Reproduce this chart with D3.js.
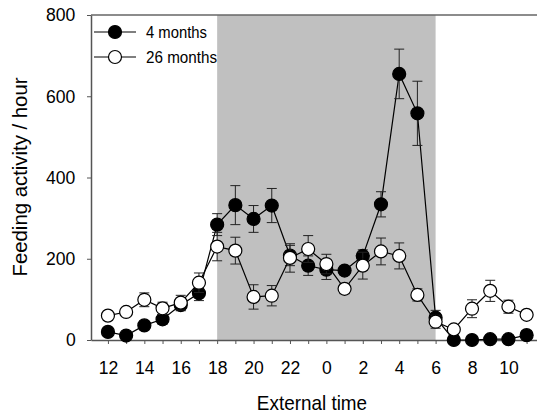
<!DOCTYPE html>
<html>
<head>
<meta charset="utf-8">
<script src="https://cdn.jsdelivr.net/npm/d3@7"></script>
<style>
  html, body { margin: 0; padding: 0; background: #fff; }
  svg { display: block; }
  text { font-family: "Liberation Sans", Arial, sans-serif; fill: #000; }
  .narrow { transform-box: fill-box; transform-origin: center; transform: scaleX(0.9); }
  .ticklabel { transform-box: fill-box; transform-origin: center; transform: scaleX(0.95); }
</style>
</head>
<body>
<svg id="chart" width="537" height="414"></svg>
<script>
// Clock hour at each sample, starting at noon
const hours = [12, 13, 14, 15, 16, 17, 18, 19, 20, 21, 22, 23, 0, 1, 2, 3, 4, 5, 6, 7, 8, 9, 10, 11];

// Feeding activity per hour (mean and SEM) for each age group
const young = [20, 11, 36, 51, 86, 115, 284, 332, 298, 331, 208, 183, 173, 171, 207, 334, 655, 558, 55, 0, 0, 2, 2, 12];
const youngErr = [7, 6, 8, 12, 14, 18, 27, 48, 33, 42, 25, 24, 24, 10, 15, 31, 61, 79, 18, 2, 2, 3, 3, 11];
const old = [60, 69, 99, 78, 92, 141, 230, 220, 106, 109, 202, 224, 187, 126, 183, 218, 207, 111, 45, 26, 77, 121, 82, 62];
const oldErr = [8, 8, 17, 15, 18, 24, 35, 33, 30, 25, 35, 33, 24, 12, 33, 33, 32, 15, 16, 5, 22, 26, 16, 8];

const seriesNames = ["4 months", "26 months"];
const yTicks = [0, 200, 400, 600, 800];
// Dark phase: from 18:00 to 06:00
const darkStart = 18, darkEnd = 6;

const svg = d3.select("#chart");

const x = d3.scaleLinear().domain([-0.93, 23.57]).range([91, 537]);
const y = d3.scaleLinear().domain([0, 800]).range([340, 15]);

const idx = hours.map((h, i) => i);

// Dark period shading
const x0 = x(hours.indexOf(darkStart));
const x1 = x(hours.indexOf(darkEnd));
svg.append("rect")
  .attr("x", x0).attr("y", y(800))
  .attr("width", x1 - x0).attr("height", y(0) - y(800))
  .attr("fill", "#c0c0c0");

// Top frame line
svg.append("line")
  .attr("x1", x.range()[0]).attr("x2", x.range()[1])
  .attr("y1", y(800)).attr("y2", y(800))
  .attr("stroke", "#666").attr("stroke-width", 1.5);

// Axes
const xAxis = d3.axisBottom(x)
  .tickValues(idx)
  .tickSize(4).tickSizeOuter(0).tickPadding(17)
  .tickFormat(i => (i % 2 === 0 ? hours[i] : ""));
const gx = svg.append("g").attr("transform", `translate(0,${y(0)})`).call(xAxis);

const yAxis = d3.axisLeft(y)
  .tickValues(yTicks)
  .tickSize(4).tickSizeOuter(0).tickPadding(11);
const gy = svg.append("g").attr("transform", `translate(${x.range()[0]},0)`).call(yAxis);

[gx, gy].forEach(g => {
  g.select(".domain").attr("stroke", "#555").attr("stroke-width", 1.5);
  g.selectAll(".tick line").attr("stroke", "#555");
  g.selectAll(".tick text")
    .attr("font-size", 18.5)
    .attr("font-family", "Liberation Sans, Arial, sans-serif")
    .attr("fill", "#000")
    .attr("class", "ticklabel");
});

// Axis titles
svg.append("text")
  .attr("class", "narrow")
  .attr("x", 312).attr("y", 410)
  .attr("text-anchor", "middle")
  .attr("font-size", 21)
  .text("External time");

svg.append("text")
  .attr("transform", "translate(27,177) rotate(-90)")
  .attr("text-anchor", "middle")
  .attr("font-size", 21)
  .attr("textLength", 199)
  .attr("lengthAdjust", "spacingAndGlyphs")
  .text("Feeding activity / hour");

// Series: line, error bars, markers
function drawSeries(vals, errs, fill) {
  const g = svg.append("g");
  const line = d3.line().x((d, i) => x(i)).y(d => y(d));
  g.append("path")
    .datum(vals)
    .attr("d", line)
    .attr("fill", "none")
    .attr("stroke", "#000")
    .attr("stroke-width", 1.2);

  const eb = g.selectAll(".err").data(vals).join("g").attr("class", "err");
  eb.append("line")
    .attr("x1", (d, i) => x(i)).attr("x2", (d, i) => x(i))
    .attr("y1", (d, i) => y(d + errs[i])).attr("y2", (d, i) => y(Math.max(0, d - errs[i])))
    .attr("stroke", "#222").attr("stroke-width", 1);
  eb.append("line")
    .attr("x1", (d, i) => x(i) - 5).attr("x2", (d, i) => x(i) + 5)
    .attr("y1", (d, i) => y(d + errs[i])).attr("y2", (d, i) => y(d + errs[i]))
    .attr("stroke", "#222").attr("stroke-width", 1);
  eb.append("line")
    .attr("x1", (d, i) => x(i) - 5).attr("x2", (d, i) => x(i) + 5)
    .attr("y1", (d, i) => y(Math.max(0, d - errs[i]))).attr("y2", (d, i) => y(Math.max(0, d - errs[i])))
    .attr("stroke", "#222").attr("stroke-width", 1);

  g.selectAll("circle").data(vals).join("circle")
    .attr("cx", (d, i) => x(i)).attr("cy", d => y(d))
    .attr("r", 6.5)
    .attr("fill", fill)
    .attr("stroke", "#000").attr("stroke-width", 1.2);
}

drawSeries(young, youngErr, "#000");
drawSeries(old, oldErr, "#fff");

// Legend
const legend = svg.append("g");
const legendRows = [{ name: seriesNames[0], fill: "#000", cy: 32 }, { name: seriesNames[1], fill: "#fff", cy: 57 }];
legendRows.forEach(r => {
  legend.append("line")
    .attr("x1", 94).attr("x2", 136).attr("y1", r.cy).attr("y2", r.cy)
    .attr("stroke", "#000").attr("stroke-width", 1.2);
  legend.append("circle")
    .attr("cx", 115).attr("cy", r.cy).attr("r", 6.5)
    .attr("fill", r.fill).attr("stroke", "#000").attr("stroke-width", 1.2);
  legend.append("text")
    .attr("x", 146).attr("y", r.cy + 6)
    .attr("font-size", 16.5)
    .attr("textLength", r.name === "4 months" ? 61 : 71)
    .attr("lengthAdjust", "spacingAndGlyphs")
    .text(r.name);
});
</script>
</body>
</html>
